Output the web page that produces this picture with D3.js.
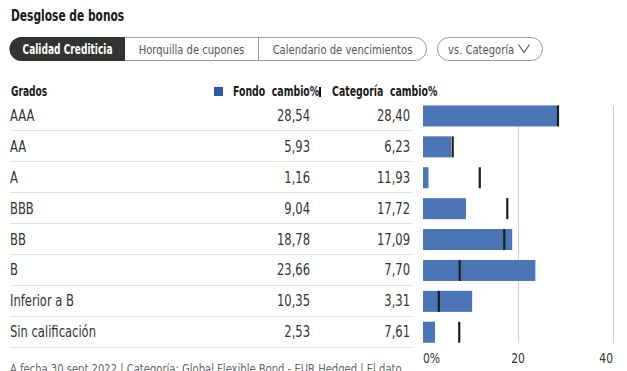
<!DOCTYPE html>
<meta charset="utf-8">
<style>
body { margin: 0; background: #fff; }
svg text { font-family: "Liberation Sans Narrow", "DejaVu Sans Condensed", "Arial Narrow", sans-serif; }
.grid line { stroke: #cfcfcf; stroke-width: 1; }
.sep { stroke: #e2e2e2; stroke-width: 1; }
</style>
<svg width="627" height="371"></svg>
<script src="https://d3js.org/d3.v7.min.js"></script>
<script>
var svg = d3.select("svg");

// data
var grades = ["AAA", "AA", "A", "BBB", "BB", "B", "Inferior a B", "Sin calificación"];
var fund = [28.54, 5.93, 1.16, 9.04, 18.78, 23.66, 10.35, 2.53];
var category = [28.40, 6.23, 11.93, 17.72, 17.09, 7.70, 3.31, 7.61];
var tabs = ["Calidad Crediticia", "Horquilla de cupones", "Calendario de vencimientos"];
var ticks = [0, 20, 40];

var fmt = function(v) { return v.toFixed(2).replace(".", ","); };

var rows = grades.map(function(g, i) { return {grade: g, fund: fund[i], cat: category[i]}; });

var x = d3.scaleLinear().domain([0, 40]).range([423, 613]);
var y = d3.scaleBand().domain(grades).range([99.5, 346.7]);

// the original uses a condensed face; work out how much to squeeze ours
function measure(str, size, weight) {
  var t = svg.append("text").attr("font-size", size).attr("font-weight", weight).text(str);
  var w = t.node().getComputedTextLength();
  t.remove();
  return w;
}
var kReg = 86 / measure("Sin calificación", 15, "normal");
var kBold = 90 / measure("Calidad Crediticia", 14, "bold");

// title
svg.append("text").attr("x", 11).attr("y", 21)
  .attr("font-size", 16.5).attr("font-weight", "bold").attr("fill", "#1a1a1a")
  .text("Desglose de bonos");

// tab group
var tabX = [10, 125, 258, 427];
var tg = svg.append("g");
tg.append("rect").attr("x", 10.5).attr("y", 37.5).attr("width", 416).attr("height", 23)
  .attr("rx", 11.5).attr("fill", "#fff").attr("stroke", "#9a9a9a");
tg.append("path")
  .attr("d", "M125,37 L21.5,37 A12,12 0 0 0 21.5,61 L125,61 Z")
  .attr("fill", "#333");
tg.append("line").attr("x1", 258.5).attr("x2", 258.5).attr("y1", 37.5).attr("y2", 60.5).attr("stroke", "#9a9a9a");
tabs.forEach(function(t, i) {
  tg.append("text").attr("x", (tabX[i] + tabX[i + 1]) / 2).attr("y", 54)
    .attr("text-anchor", "middle").attr("font-size", i === 0 ? 14 : 13)
    .attr("font-weight", i === 0 ? "bold" : "normal")
    .attr("fill", i === 0 ? "#fff" : "#555")
    .text(t);
});
svg.append("rect").attr("x", 437.5).attr("y", 37.5).attr("width", 105).attr("height", 23)
  .attr("rx", 11.5).attr("fill", "#fff").attr("stroke", "#9a9a9a");
svg.append("text").attr("x", 448).attr("y", 54).attr("font-size", 13).attr("fill", "#555")
  .text("vs. Categoría");
svg.append("path").attr("d", "M518.5,44.5 L524,52.5 L529.5,44.5").attr("fill", "none")
  .attr("stroke", "#555").attr("stroke-width", 1.1);

// header
var hdr = svg.append("g").attr("font-size", 14.5).attr("font-weight", "bold").attr("fill", "#1a1a1a");
hdr.append("text").attr("x", 11).attr("y", 96).attr("font-size", 14).text("Grados");
svg.append("rect").attr("x", 214).attr("y", 87).attr("width", 9).attr("height", 9).attr("fill", "#2b57a6");
hdr.append("text").attr("x", 233).attr("y", 96).attr("xml:space", "preserve").text("Fondo  cambio%");
svg.append("rect").attr("x", 319).attr("y", 87).attr("width", 2).attr("height", 10).attr("fill", "#111");
hdr.append("text").attr("x", 332).attr("y", 96).attr("xml:space", "preserve").text("Categoría  cambio%");

// grid
var grid = svg.append("g").attr("class", "grid");
grid.selectAll("line").data(ticks.slice(1)).enter().append("line")
  .attr("x1", function(d) { return Math.round(x(d)) + 0.5; })
  .attr("x2", function(d) { return Math.round(x(d)) + 0.5; })
  .attr("y1", 106).attr("y2", 343);

// table rows
var row = svg.append("g").selectAll("g").data(rows).enter().append("g");
row.append("line").attr("class", "sep")
  .attr("x1", 10).attr("x2", 413)
  .attr("y1", function(d) { return Math.round(y(d.grade) + y.bandwidth()) + 0.5; })
  .attr("y2", function(d) { return Math.round(y(d.grade) + y.bandwidth()) + 0.5; });
var ty = function(d) { return y(d.grade) + y.bandwidth() / 2 + 6; };
row.append("text").attr("x", 10).attr("y", ty).attr("font-size", 15).attr("fill", "#333")
  .text(function(d) { return d.grade; });
row.append("text").attr("x", 310).attr("y", ty).attr("font-size", 15).attr("fill", "#333")
  .attr("text-anchor", "end").text(function(d) { return fmt(d.fund); });
row.append("text").attr("x", 410).attr("y", ty).attr("font-size", 15).attr("fill", "#333")
  .attr("text-anchor", "end").text(function(d) { return fmt(d.cat); });

// bars
var by = function(d) { return y(d.grade) + y.bandwidth() / 2 + 1 - 10.5; };
row.append("rect")
  .attr("x", x(0))
  .attr("y", by)
  .attr("width", function(d) { return x(d.fund) - x(0); })
  .attr("height", 21)
  .attr("fill", "#4a76b6");
row.append("rect")
  .attr("x", function(d) { return x(d.cat) - 1; })
  .attr("y", by)
  .attr("width", 2.2)
  .attr("height", 21)
  .attr("fill", "#1e1e1e");

// axis labels
svg.append("g").selectAll("text").data(ticks).enter().append("text")
  .attr("x", function(d) { return x(d); })
  .attr("y", 363)
  .attr("font-size", 14).attr("fill", "#333")
  .attr("text-anchor", function(d, i) { return i === 0 ? "start" : (i === ticks.length - 1 ? "end" : "middle"); })
  .text(function(d, i) { return i === 0 ? d + "%" : d; });

// footer
svg.append("text").attr("x", 10).attr("y", 373).attr("font-size", 13).attr("fill", "#666")
  .text("A fecha 30 sept 2022 | Categoría: Global Flexible Bond - EUR Hedged | El dato");

// squeeze every label to the condensed width
svg.selectAll("text").each(function() {
  var el = d3.select(this);
  var w = this.getComputedTextLength();
  var bold = getComputedStyle(this).fontWeight >= 600;
  el.attr("textLength", w * (bold ? kBold : kReg)).attr("lengthAdjust", "spacingAndGlyphs");
});
</script>
